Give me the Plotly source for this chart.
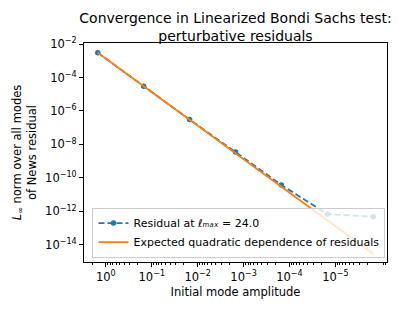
import plotly.graph_objects as go

# Data
amplitude = [1.5, 1.5e-1, 1.5e-2, 1.5e-3, 1.5e-4, 1.5e-5, 1.5e-6]
residual = [3.0e-3, 3.0e-5, 3.1e-7, 3.5e-9, 3.8e-11, 6.9e-13, 4.8e-13]
expected = [3.0e-3, 3.0e-5, 3.0e-7, 3.0e-9, 3.0e-11, 3.0e-13, 3.0e-15]

x_tickvals = [1, 1e-1, 1e-2, 1e-3, 1e-4, 1e-5]
x_ticktext = ["10<sup>0</sup>", "10<sup>\u22121</sup>", "10<sup>\u22122</sup>",
              "10<sup>\u22123</sup>", "10<sup>\u22124</sup>", "10<sup>\u22125</sup>"]
x_minor = [k * 10.0 ** e for e in range(-7, 1) for k in range(2, 10)]
y_tickvals = [1e-2, 1e-4, 1e-6, 1e-8, 1e-10, 1e-12, 1e-14]
y_ticktext = ["10<sup>\u22122</sup>", "10<sup>\u22124</sup>", "10<sup>\u22126</sup>",
              "10<sup>\u22128</sup>", "10<sup>\u221210</sup>", "10<sup>\u221212</sup>",
              "10<sup>\u221214</sup>"]

BLUE = "#1f77b4"
ORANGE = "#ff7f0e"
FONT = "DejaVu Sans"
FS = 11.5

fig = go.Figure()
fig.add_trace(go.Scatter(
    x=amplitude, y=residual, mode="lines+markers",
    line=dict(color=BLUE, width=1.8, dash="6px,3px"),
    marker=dict(color=BLUE, size=5.5),
    name="Residual at <i>\u2113\u2098\u2090\u2093</i> = 24.0",
))
fig.add_trace(go.Scatter(
    x=amplitude, y=expected, mode="lines",
    line=dict(color=ORANGE, width=1.8),
    name="Expected quadratic dependence of residuals",
))

axis_common = dict(
    showline=True, linecolor="black", linewidth=1, mirror=True,
    ticks="outside", ticklen=4, tickwidth=0.8, tickcolor="black",
    showgrid=False, zeroline=False, automargin=False,
    tickfont=dict(family=FONT, size=FS, color="black"),
)

fig.update_layout(
    width=398, height=315,
    margin=dict(l=84, r=11, t=43, b=53),
    paper_bgcolor="white", plot_bgcolor="white",
    font=dict(family=FONT, color="black", size=FS),
    title=dict(
        text="Convergence in Linearized Bondi Sachs test:<br>perturbative residuals",
        x=0.5, xref="paper", xanchor="center",
        y=1 - 23 / 315, yref="container", yanchor="top",
        font=dict(family=FONT, size=14, color="black"),
    ),
    xaxis=dict(
        type="log", range=[0.476, -6.124],
        tickmode="array", tickvals=x_tickvals, ticktext=x_ticktext,
        minor=dict(tickmode="array", tickvals=x_minor, ticks="outside",
                   ticklen=2, tickwidth=0.6, tickcolor="black", showgrid=False),
        title=dict(text="Initial mode amplitude", standoff=5,
                   font=dict(family=FONT, size=FS, color="black")),
        **axis_common,
    ),
    yaxis=dict(
        type="log", range=[-15.02, -1.94],
        tickmode="array", tickvals=y_tickvals, ticktext=y_ticktext,
        title=dict(text="<i>L</i><sub>\u221e</sub> norm over all modes<br>of News residual",
                   standoff=6, font=dict(family=FONT, size=FS, color="black")),
        **axis_common,
    ),
    showlegend=True,
    legend=dict(
        x=0.995, xanchor="right", y=0.02, yanchor="bottom",
        xref="paper", yref="paper",
        bgcolor="rgba(255,255,255,0.8)", bordercolor="#cccccc", borderwidth=1,
        font=dict(family=FONT, size=11, color="black"),
        tracegroupgap=0, itemwidth=30,
    ),
)

fig.write_html(
    "out.html",
    config={"displayModeBar": False},
    post_script="document.body.style.margin='0px';document.body.style.overflow='hidden';",
)
